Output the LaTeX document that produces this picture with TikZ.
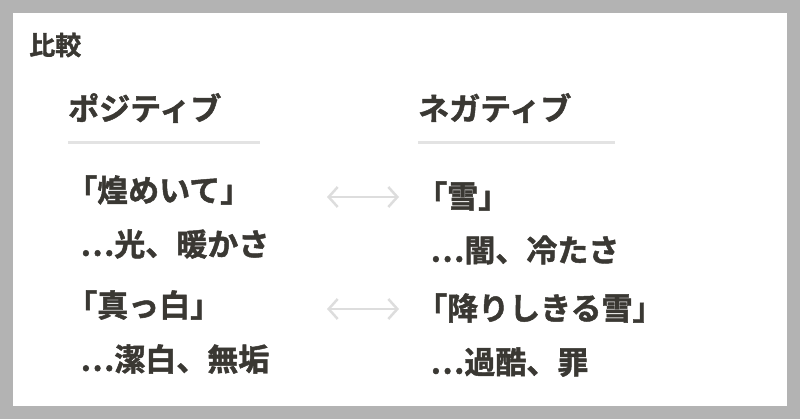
\documentclass[tikz,border=0pt]{standalone}
\usepackage{fontspec}
\usetikzlibrary{arrows.meta}
\newfontfamily\cjk[BoldFont={Noto Sans CJK JP Bold},BoldFeatures={FakeBold=1.5}]{Noto Sans CJK JP}
\definecolor{ink}{HTML}{3A3833}
\definecolor{frame}{HTML}{B3B3B3}
\definecolor{rule}{HTML}{E3E3E3}
\definecolor{arr}{HTML}{DDDDDD}
\begin{document}
\begin{tikzpicture}[x=1pt,y=-1pt,
  txt/.style={anchor=west,inner sep=0,text=ink,font=\cjk\bfseries\fontsize{31}{34}\selectfont},
  hdr/.style={txt,font=\cjk\bfseries\fontsize{31}{34}\selectfont},
  arrowline/.style={arr,line width=2.5pt,{Straight Barb[length=9pt,width=20pt]}-{Straight Barb[length=9pt,width=20pt]}}]
\fill[frame] (0,0) rectangle (800,419);
\fill[white] (13,13) rectangle (787,406);
\node[txt,font=\cjk\bfseries\fontsize{26}{30}\selectfont] (title) at (29,45) {比較};
\node[hdr] (pos) at (68,108) {ポジティブ};
\node[hdr] (neg) at (418,108) {ネガティブ};
\draw[rule,line width=3pt] (68,143) -- (260,143);
\draw[rule,line width=3pt] (418,143) -- (615,143);
\node[txt] (a1) at (66,190) {「煌めいて」};
\node[txt] (a2) at (80,244) {⋯光、暖かさ};
\node[txt] (a3) at (66,305) {「真っ白」};
\node[txt] (a4) at (80,359) {⋯潔白、無垢};
\node[txt] (b1) at (416,196) {「雪」};
\node[txt] (b2) at (430,250) {⋯闇、冷たさ};
\node[txt] (b3) at (416,308) {「降りしきる雪」};
\node[txt] (b4) at (430,362) {⋯過酷、罪};
\coordinate (l1) at (327,197); \coordinate (r1) at (399,197);
\coordinate (l2) at (327,309); \coordinate (r2) at (399,309);
\draw[arrowline] (l1) -- (r1);
\draw[arrowline] (l2) -- (r2);
\end{tikzpicture}
\end{document}
